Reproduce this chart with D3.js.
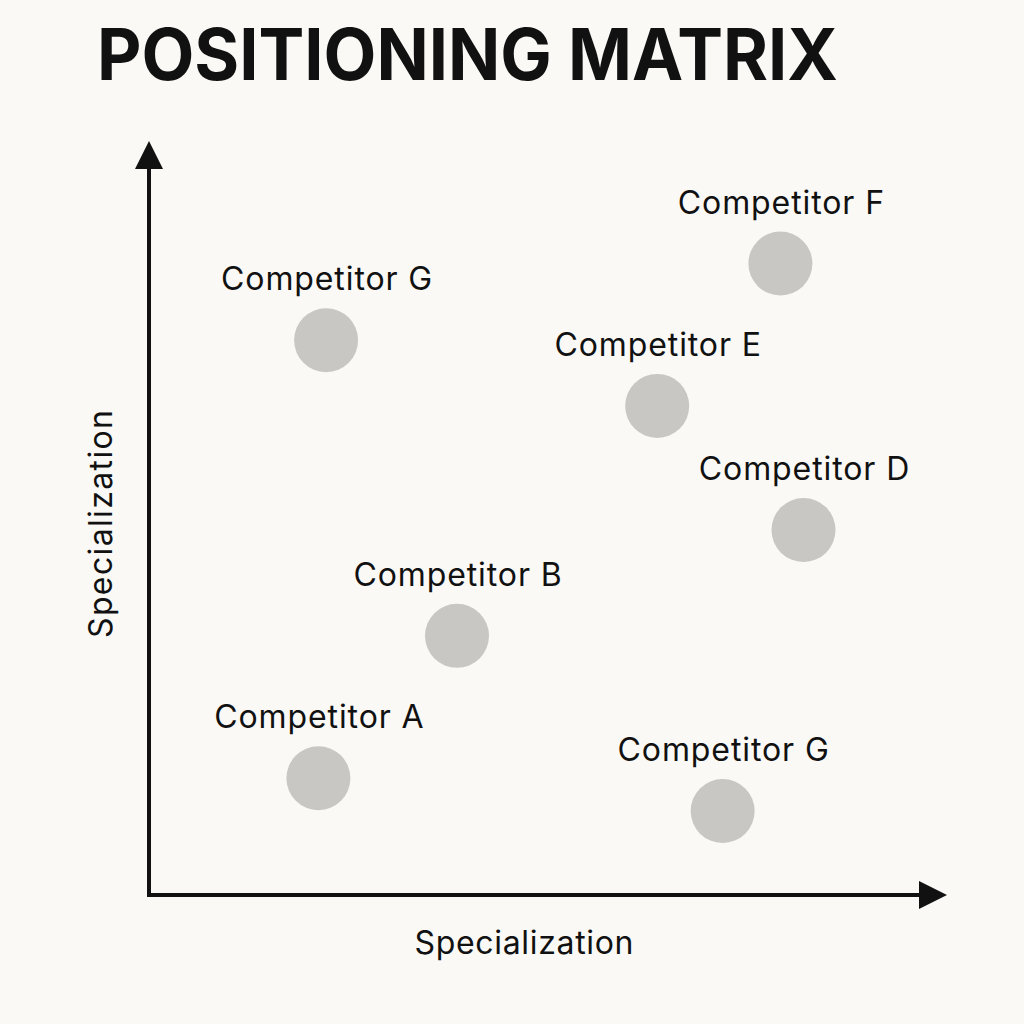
<!DOCTYPE html>
<html>
<head>
<meta charset="utf-8">
<script src="https://cdn.jsdelivr.net/npm/d3@7"></script>
<style>
  body { margin: 0; background: #faf9f6; }
  text { font-family: Inter, "Liberation Sans", Arial, sans-serif; fill: #111; }
</style>
</head>
<body>
<script>
var width = 1024;
var height = 1024;

var names = ["Competitor G", "Competitor F", "Competitor E", "Competitor D", "Competitor B", "Competitor A", "Competitor G"];
var xValues = [2.3, 8.2, 6.6, 8.5, 4.0, 2.2, 7.45];
var yValues = [7.6, 8.65, 6.7, 5.0, 3.55, 1.6, 1.15];

var svg = d3.select("body").append("svg")
    .attr("width", width)
    .attr("height", height);

svg.append("rect")
    .attr("width", width)
    .attr("height", height)
    .attr("fill", "#faf9f6");

var data = names.map(function (name, i) {
    return { Name: name, X: xValues[i], Y: yValues[i] };
});

var xScale = d3.scaleLinear().domain([0, 10]).range([149, 919]);
var yScale = d3.scaleLinear().domain([0, 10]).range([895, 165]);

// arrow heads
var defs = svg.append("defs");
defs.append("marker")
    .attr("id", "arrow")
    .attr("viewBox", "0 0 10 10")
    .attr("refX", 0)
    .attr("refY", 5)
    .attr("markerUnits", "userSpaceOnUse")
    .attr("markerWidth", 28)
    .attr("markerHeight", 30)
    .attr("orient", "auto")
    .append("path")
    .attr("d", "M0,0 L10,5 L0,10 Z")
    .attr("fill", "#111");

// axes
svg.append("line")
    .attr("x1", xScale(0)).attr("y1", yScale(0))
    .attr("x2", xScale(0)).attr("y2", yScale(10) + 4)
    .attr("stroke", "#111")
    .attr("stroke-width", 4)
    .attr("marker-end", "url(#arrow)");

svg.append("line")
    .attr("x1", xScale(0) - 2).attr("y1", yScale(0))
    .attr("x2", xScale(10)).attr("y2", yScale(0))
    .attr("stroke", "#111")
    .attr("stroke-width", 4)
    .attr("marker-end", "url(#arrow)");

svg.append("text")
    .attr("x", 97)
    .attr("y", 80)
    .attr("font-size", 71)
    .attr("font-weight", "bold")
    .attr("textLength", 741)
    .attr("lengthAdjust", "spacingAndGlyphs")
    .text("POSITIONING MATRIX");

svg.append("text")
    .attr("x", 524)
    .attr("y", 954)
    .attr("text-anchor", "middle")
    .attr("font-size", 32)
    .attr("textLength", 219)
    .text("Specialization");

svg.append("text")
    .attr("transform", "translate(112,524) rotate(-90)")
    .attr("text-anchor", "middle")
    .attr("font-size", 32)
    .attr("textLength", 228)
    .text("Specialization");

svg.selectAll("circle.pt")
    .data(data)
    .enter().append("circle")
    .attr("class", "pt")
    .attr("cx", d => xScale(d.X))
    .attr("cy", d => yScale(d.Y))
    .attr("r", 32)
    .attr("fill", "#c8c7c4");

svg.selectAll("text.lbl")
    .data(data)
    .enter().append("text")
    .attr("class", "lbl")
    .attr("x", d => xScale(d.X) + 1)
    .attr("y", d => yScale(d.Y) - 50)
    .attr("text-anchor", "middle")
    .attr("font-size", 32)
    .attr("letter-spacing", 0.9)
    .text(d => d.Name);
</script>
</body>
</html>
